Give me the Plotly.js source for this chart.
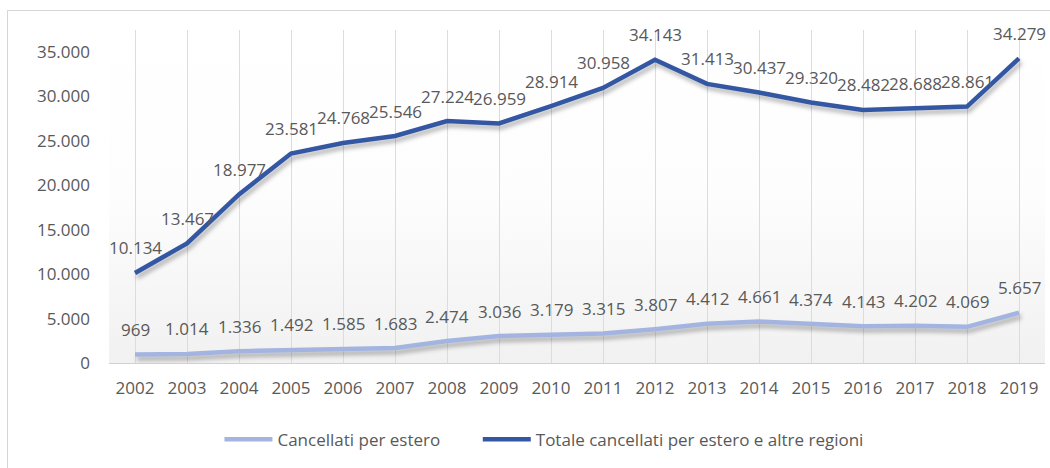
<!DOCTYPE html>
<html>
<head>
<meta charset="utf-8">
<script src="https://cdn.plot.ly/plotly-3.0.1.min.js"></script>
<style>
html,body{margin:0;padding:0;background:#fff;}
#wrap{position:relative;width:1050px;height:468px;overflow:hidden;}
#frame{position:absolute;left:7px;top:10px;width:1060px;height:470px;border:1px solid #d6d6d6;pointer-events:none;}
#bg{position:absolute;left:109px;top:30px;width:936px;height:333px;background:linear-gradient(to bottom,#ffffff 0%,#fdfdfd 50%,#f1f1f1 100%);}
#chart{position:absolute;left:0;top:0;width:1050px;height:468px;}
</style>
</head>
<body>
<div id="wrap"><div id="bg"></div><div id="chart"></div><div id="frame"></div></div>
<script>
const years = ["2002","2003","2004","2005","2006","2007","2008","2009","2010","2011","2012","2013","2014","2015","2016","2017","2018","2019"];
const cancellatiEstero = [969,1014,1336,1492,1585,1683,2474,3036,3179,3315,3807,4412,4661,4374,4143,4202,4069,5657];
const totaleCancellati = [10134,13467,18977,23581,24768,25546,27224,26959,28914,30958,34143,31413,30437,29320,28482,28688,28861,34279];
const seriesNames = ["Cancellati per estero","Totale cancellati per estero e altre regioni"];
const yTicks = [0,5000,10000,15000,20000,25000,30000,35000];

const FAM = "Open Sans, Noto Sans, sans-serif";
const font = {family:FAM, size:17, color:"#595959"};
const fmt = v => String(v).replace(/\B(?=(\d{3})+(?!\d))/g, ".");

const traces = [
  {x:years, y:cancellatiEstero, name:seriesNames[0], type:"scatter", mode:"lines",
   line:{color:"#a3b4e0", width:4.5}, legend:"legend"},
  {x:years, y:totaleCancellati, name:seriesNames[1], type:"scatter", mode:"lines",
   line:{color:"#3457a3", width:4.5}, legend:"legend2"}
];
const annotations = [];
[cancellatiEstero, totaleCancellati].forEach(arr => {
  arr.forEach((v,i) => {
    annotations.push({x:i, y:v, xref:"x", yref:"y", text:fmt(v), showarrow:false,
      yshift:25, font:font, xanchor:"center", yanchor:"middle"});
  });
});
const legendBase = {orientation:"h", xanchor:"left", y:-0.23, yanchor:"middle", font:font, itemwidth:48, bgcolor:"rgba(0,0,0,0)"};
const layout = {
  width:1050, height:468,
  margin:{l:109, r:5, t:30, b:105},
  separators:",.",
  paper_bgcolor:"rgba(0,0,0,0)", plot_bgcolor:"rgba(0,0,0,0)",
  font:font,
  showlegend:true,
  annotations:annotations,
  legend:Object.assign({}, legendBase, {x:0.118}),
  legend2:Object.assign({}, legendBase, {x:0.394}),
  xaxis:{type:"category", showgrid:true, gridcolor:"#dcdcdc", gridwidth:1, showline:true, linecolor:"#d0d0d0", linewidth:1,
         ticks:"", tickfont:font, ticklabelstandoff:10, range:[-0.5,17.5], fixedrange:true},
  yaxis:{range:[0,37480], tickvals:yTicks, tickformat:",d", showgrid:false, zeroline:false, showline:false,
         ticks:"", tickfont:font, ticklabelstandoff:18, fixedrange:true}
};
Plotly.newPlot("chart", traces, layout, {displayModeBar:false, staticPlot:true}).then(() => {
  document.querySelectorAll("#chart .scatterlayer .js-line").forEach(p => {
    p.style.filter = "drop-shadow(2px 4px 2px rgba(0,0,0,0.28))";
  });
});
</script>
</body>
</html>
